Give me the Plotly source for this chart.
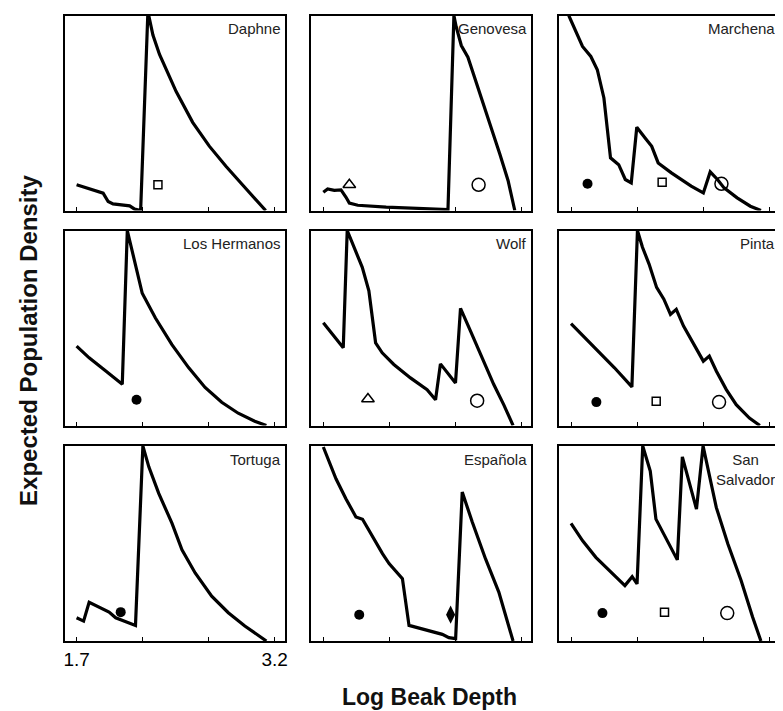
import plotly.graph_objects as go

# ---------------- data ----------------
ISLANDS = ["Daphne", "Genovesa", "Marchena",
           "Los Hermanos", "Wolf", "Pinta",
           "Tortuga", "Española", "San<br>Salvador"]

DAPHNE_X = [1.700, 1.901, 1.939, 1.976, 2.102, 2.140, 2.185, 2.240, 2.278, 2.328, 2.454, 2.579, 2.705, 2.831, 2.956, 3.057, 3.132]
DAPHNE_Y = [0.132, 0.089, 0.046, 0.034, 0.024, 0.007, 0.000, 1.020, 0.900, 0.800, 0.610, 0.452, 0.330, 0.227, 0.132, 0.058, 0.000]

GENOVESA_X = [1.700, 1.733, 1.783, 1.834, 1.872, 1.897, 1.961, 2.176, 2.644, 2.689, 2.707, 2.745, 2.795, 2.871, 2.960, 3.036, 3.099, 3.150]
GENOVESA_Y = [0.094, 0.111, 0.103, 0.106, 0.068, 0.038, 0.027, 0.017, 0.005, 1.000, 0.940, 0.846, 0.786, 0.632, 0.444, 0.291, 0.154, 0.000]

MARCHENA_X = [1.683, 1.725, 1.787, 1.850, 1.899, 1.949, 1.999, 2.061, 2.111, 2.156, 2.198, 2.261, 2.311, 2.360, 2.460, 2.610, 2.702, 2.754, 2.809, 2.859, 2.958, 3.058, 3.138]
MARCHENA_Y = [1.000, 0.935, 0.841, 0.790, 0.722, 0.577, 0.270, 0.235, 0.159, 0.142, 0.427, 0.372, 0.329, 0.244, 0.193, 0.125, 0.090, 0.198, 0.159, 0.116, 0.065, 0.022, 0.000]

HERMANOS_X = [1.700, 1.795, 1.921, 2.046, 2.084, 2.121, 2.172, 2.197, 2.297, 2.422, 2.548, 2.673, 2.799, 2.924, 3.049, 3.137]
HERMANOS_Y = [0.407, 0.347, 0.280, 0.212, 1.000, 0.890, 0.754, 0.678, 0.551, 0.415, 0.297, 0.195, 0.119, 0.063, 0.022, 0.000]

WOLF_X = [1.700, 1.851, 1.881, 1.945, 1.995, 2.045, 2.096, 2.146, 2.234, 2.360, 2.486, 2.550, 2.587, 2.701, 2.739, 2.814, 2.890, 2.991, 3.066, 3.137]
WOLF_Y = [0.527, 0.399, 1.000, 0.897, 0.811, 0.691, 0.424, 0.373, 0.313, 0.244, 0.184, 0.132, 0.316, 0.218, 0.601, 0.485, 0.364, 0.210, 0.107, 0.000]

PINTA_X = [1.700, 1.780, 1.904, 2.029, 2.161, 2.203, 2.241, 2.291, 2.348, 2.403, 2.453, 2.497, 2.552, 2.627, 2.702, 2.747, 2.801, 2.876, 2.951, 3.051, 3.130]
PINTA_Y = [0.522, 0.467, 0.381, 0.296, 0.198, 1.000, 0.914, 0.828, 0.708, 0.648, 0.570, 0.596, 0.510, 0.416, 0.330, 0.356, 0.278, 0.184, 0.107, 0.038, 0.000]

TORTUGA_X = [1.700, 1.753, 1.795, 1.946, 1.996, 2.146, 2.202, 2.247, 2.322, 2.422, 2.498, 2.598, 2.723, 2.849, 2.974, 3.137]
TORTUGA_Y = [0.119, 0.102, 0.199, 0.148, 0.119, 0.080, 1.000, 0.893, 0.757, 0.604, 0.468, 0.349, 0.230, 0.145, 0.077, 0.000]

ESPANOLA_X = [1.700, 1.745, 1.796, 1.871, 1.947, 1.997, 2.073, 2.148, 2.198, 2.299, 2.349, 2.475, 2.601, 2.651, 2.702, 2.752, 2.828, 2.928, 3.029, 3.137]
ESPANOLA_Y = [0.995, 0.918, 0.832, 0.730, 0.636, 0.624, 0.533, 0.448, 0.397, 0.320, 0.080, 0.055, 0.034, 0.017, 0.012, 0.764, 0.610, 0.422, 0.251, 0.000]

SANSALV_X = [1.700, 1.788, 1.888, 1.988, 2.108, 2.163, 2.200, 2.243, 2.300, 2.343, 2.413, 2.463, 2.505, 2.543, 2.593, 2.650, 2.700, 2.750, 2.800, 2.888, 2.988, 3.075, 3.138]
SANSALV_Y = [0.603, 0.514, 0.429, 0.361, 0.284, 0.330, 0.293, 1.000, 0.872, 0.625, 0.532, 0.472, 0.416, 0.944, 0.821, 0.676, 1.000, 0.847, 0.685, 0.497, 0.310, 0.123, 0.000]

# observed mean beak depths (species symbols)
DAPHNE_PTS_X = [2.316];               DAPHNE_PTS_S = ["fortis"]
GENOVESA_PTS_X = [1.897, 2.876];      GENOVESA_PTS_S = ["difficilis", "magnirostris"]
MARCHENA_PTS_X = [1.825, 2.390, 2.839]; MARCHENA_PTS_S = ["fuliginosa", "fortis", "magnirostris"]
HERMANOS_PTS_X = [2.154];             HERMANOS_PTS_S = ["fuliginosa"]
WOLF_PTS_X = [2.038, 2.865];          WOLF_PTS_S = ["difficilis", "magnirostris"]
PINTA_PTS_X = [1.892, 2.345, 2.821];  PINTA_PTS_S = ["fuliginosa", "fortis", "magnirostris"]
TORTUGA_PTS_X = [2.034];              TORTUGA_PTS_S = ["fuliginosa"]
ESPANOLA_PTS_X = [1.972, 2.664];      ESPANOLA_PTS_S = ["fuliginosa", "conirostris"]
SANSALV_PTS_X = [1.938, 2.408, 2.883]; SANSALV_PTS_S = ["fuliginosa", "fortis", "magnirostris"]
DAPHNE_PTS_Y = [0.132]
GENOVESA_PTS_Y = [0.132, 0.132]
MARCHENA_PTS_Y = [0.137, 0.145, 0.137]
HERMANOS_PTS_Y = [0.132]
WOLF_PTS_Y = [0.136, 0.127]
PINTA_PTS_Y = [0.120, 0.124, 0.120]
TORTUGA_PTS_Y = [0.148]
ESPANOLA_PTS_Y = [0.135, 0.135]
SANSALV_PTS_Y = [0.143, 0.148, 0.143]

TICK_VALS = [1.7, 2.2, 2.7, 3.2]
TICK_TEXT = ["1.7", "", "", "3.2"]

CURVES = [(DAPHNE_X, DAPHNE_Y), (GENOVESA_X, GENOVESA_Y), (MARCHENA_X, MARCHENA_Y),
          (HERMANOS_X, HERMANOS_Y), (WOLF_X, WOLF_Y), (PINTA_X, PINTA_Y),
          (TORTUGA_X, TORTUGA_Y), (ESPANOLA_X, ESPANOLA_Y), (SANSALV_X, SANSALV_Y)]
POINTS = [(DAPHNE_PTS_X, DAPHNE_PTS_Y, DAPHNE_PTS_S),
          (GENOVESA_PTS_X, GENOVESA_PTS_Y, GENOVESA_PTS_S),
          (MARCHENA_PTS_X, MARCHENA_PTS_Y, MARCHENA_PTS_S),
          (HERMANOS_PTS_X, HERMANOS_PTS_Y, HERMANOS_PTS_S),
          (WOLF_PTS_X, WOLF_PTS_Y, WOLF_PTS_S),
          (PINTA_PTS_X, PINTA_PTS_Y, PINTA_PTS_S),
          (TORTUGA_PTS_X, TORTUGA_PTS_Y, TORTUGA_PTS_S),
          (ESPANOLA_PTS_X, ESPANOLA_PTS_Y, ESPANOLA_PTS_S),
          (SANSALV_PTS_X, SANSALV_PTS_Y, SANSALV_PTS_S)]

# ---------------- styles ----------------
SYMBOLS = {
    "fuliginosa": dict(symbol="circle", size=10, lw=0),
    "fortis": dict(symbol="square-open", size=8, lw=1.5),
    "magnirostris": dict(symbol="circle-open", size=13, lw=1.5),
    "difficilis": dict(symbol="triangle-up-open", size=11, lw=1.5),
    "conirostris": dict(symbol="diamond-tall", size=13, lw=0),
}

# the page body has an 8 px margin, so the figure is laid out 8 px up/left
OFF = 8
W, H = 775, 703
COL_LEFT = [64 - OFF, 312 - OFF, 561 - OFF]
PANEL_W = 221
ROW_TOP = [15.5 - OFF, 230.5 - OFF, 446 - OFF]
PANEL_H = 195
FONT = "Liberation Sans, Arial, Helvetica, sans-serif"

fig = go.Figure()
layout = dict(width=W, height=H, margin=dict(l=0, r=0, t=0, b=0),
              paper_bgcolor="white", plot_bgcolor="white", showlegend=False,
              font=dict(family=FONT, color="black"))
annotations = []

for i, name in enumerate(ISLANDS):
    r, c = divmod(i, 3)
    n = "" if i == 0 else str(i + 1)
    xa, ya = "x" + n, "y" + n
    x0 = COL_LEFT[c] / W
    x1 = (COL_LEFT[c] + PANEL_W) / W
    y1 = 1 - ROW_TOP[r] / H
    y0 = 1 - (ROW_TOP[r] + PANEL_H) / H
    show_lab = (r == 2 and c == 0)
    layout["xaxis" + n] = dict(domain=[x0, min(x1, 1.0)], range=[1.61, 3.275], anchor=ya,
                               showline=True, mirror=True, linecolor="black", linewidth=1.5,
                               showgrid=False, zeroline=False,
                               ticks="inside", ticklen=4, tickwidth=1, tickcolor="black",
                               tickvals=TICK_VALS, ticktext=TICK_TEXT,
                               showticklabels=show_lab,
                               tickfont=dict(size=19, family=FONT, color="black"))
    layout["yaxis" + n] = dict(domain=[y0, y1], range=[0, 1], anchor=xa,
                               showline=True, mirror=True, linecolor="black", linewidth=1.5,
                               showgrid=False, zeroline=False, ticks="", showticklabels=False)
    cx, cy = CURVES[i]
    fig.add_trace(go.Scatter(x=cx, y=cy, mode="lines", xaxis=xa, yaxis=ya,
                             line=dict(color="black", width=3.2), hoverinfo="skip"))
    px, py, ps = POINTS[i]
    for x, y, s in zip(px, py, ps):
        st = SYMBOLS[s]
        fig.add_trace(go.Scatter(x=[x], y=[y], mode="markers", xaxis=xa, yaxis=ya, name=s,
                                 marker=dict(symbol=st["symbol"], size=st["size"],
                                             color="black",
                                             line=dict(color="black", width=st["lw"]))))
    annotations.append(dict(text=name, xref=xa + " domain", yref=ya + " domain",
                            x=1, y=1, xanchor="right", yanchor="top", xshift=-2, yshift=-3,
                            showarrow=False, align="center",
                            font=dict(size=15, family=FONT, color="#222")))

annotations.append(dict(text="Expected Population Density", xref="paper", yref="paper",
                        x=(27 - OFF) / W, y=1 - (340 - OFF) / H, textangle=-90, showarrow=False,
                        xanchor="center", yanchor="middle",
                        font=dict(size=24, family=FONT, color="#111", weight="bold")))
annotations.append(dict(text="Log Beak Depth", xref="paper", yref="paper",
                        x=(431 - OFF) / W, y=1 - (697 - OFF) / H, showarrow=False,
                        xanchor="center", yanchor="middle",
                        font=dict(size=23, family=FONT, color="#111", weight="bold")))
layout["annotations"] = annotations
fig.update_layout(**layout)
fig.write_html("out.html")
